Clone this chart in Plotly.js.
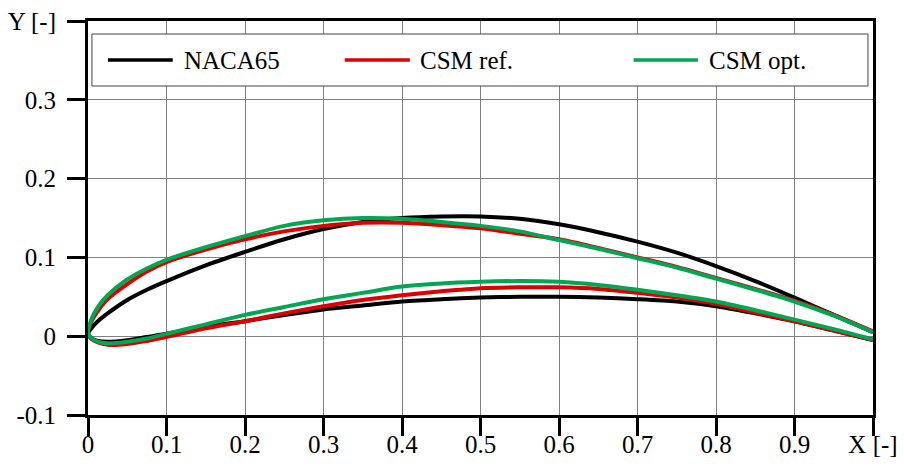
<!DOCTYPE html>
<html>
<head>
<meta charset="utf-8">
<script src="https://cdn.plot.ly/plotly-3.0.1.min.js"></script>
<style>
  html, body { margin: 0; padding: 0; background: #ffffff; }
  #chart { width: 904px; height: 466px; }
</style>
</head>
<body>
<div id="chart"></div>
<script>
// Chord stations (shared by every surface)
const xStations = [0, 0.005, 0.0125, 0.025, 0.05, 0.075, 0.1, 0.15, 0.2, 0.25, 0.3, 0.35, 0.4, 0.45, 0.5, 0.55, 0.6, 0.65, 0.7, 0.75, 0.8, 0.85, 0.9, 0.95, 1.0];

// NACA65
const nacaUpper = [0.003, 0.011, 0.019, 0.029, 0.046, 0.059, 0.070, 0.090, 0.107, 0.123, 0.136, 0.145, 0.150, 0.152, 0.152, 0.149, 0.142, 0.132, 0.120, 0.106, 0.089, 0.070, 0.049, 0.027, 0.005];
const nacaLower = [0.003, -0.003, -0.006, -0.007, -0.005, -0.001, 0.003, 0.012, 0.019, 0.027, 0.034, 0.039, 0.044, 0.047, 0.049, 0.050, 0.050, 0.049, 0.047, 0.044, 0.038, 0.029, 0.019, 0.007, -0.005];

// CSM ref.
const refUpper = [0.004, 0.020, 0.032, 0.047, 0.066, 0.082, 0.094, 0.110, 0.123, 0.133, 0.140, 0.144, 0.144, 0.141, 0.137, 0.130, 0.123, 0.112, 0.100, 0.088, 0.074, 0.060, 0.045, 0.027, 0.006];
const refLower = [0.004, -0.004, -0.008, -0.011, -0.010, -0.006, -0.001, 0.010, 0.019, 0.029, 0.038, 0.046, 0.052, 0.057, 0.061, 0.062, 0.062, 0.060, 0.055, 0.049, 0.041, 0.030, 0.019, 0.007, -0.005];

// CSM opt.
const optUpper = [0.004, 0.023, 0.037, 0.052, 0.072, 0.086, 0.097, 0.113, 0.127, 0.140, 0.147, 0.150, 0.149, 0.145, 0.140, 0.133, 0.122, 0.111, 0.099, 0.087, 0.073, 0.059, 0.044, 0.026, 0.005];
const optLower = [0.004, -0.003, -0.007, -0.009, -0.007, -0.003, 0.003, 0.015, 0.027, 0.037, 0.047, 0.055, 0.063, 0.067, 0.069, 0.070, 0.069, 0.065, 0.059, 0.052, 0.044, 0.033, 0.021, 0.009, -0.004];

const seriesNames = ["NACA65", "CSM ref.", "CSM opt."];
const seriesColors = ["#000000", "#dd0000", "#00a651"];

const xTickVals = [0, 0.1, 0.2, 0.3, 0.4, 0.5, 0.6, 0.7, 0.8, 0.9, 1.0];
const xTickText = ["0", "0.1", "0.2", "0.3", "0.4", "0.5", "0.6", "0.7", "0.8", "0.9", "X [-]"];
const yTickVals = [-0.1, 0, 0.1, 0.2, 0.3, 0.4];
const yTickText = ["-0.1", "0", "0.1", "0.2", "0.3", "Y [-]"];

function contour(upper, lower) {
  const xs = xStations.slice().reverse().concat(xStations.slice(1));
  const ys = upper.slice().reverse().concat(lower.slice(1));
  return { xs, ys };
}

const surfaces = [[nacaUpper, nacaLower], [refUpper, refLower], [optUpper, optLower]];
const traces = surfaces.map((s, i) => {
  const c = contour(s[0], s[1]);
  return {
    x: c.xs, y: c.ys, type: "scatter", mode: "lines",
    name: seriesNames[i],
    line: { color: seriesColors[i], width: 4, shape: "spline", smoothing: 0.8 },
    showlegend: false, hoverinfo: "skip"
  };
});

const FONT = "Liberation Serif, Times New Roman, serif";

// Custom legend (box, sample lines, labels) in paper coordinates
const legendBox = { x0: 0.005, x1: 0.9936, y0: 0.835, y1: 0.967 };
const legendLineX = [[0.0255, 0.108], [0.327, 0.410], [0.695, 0.777]];
const legendTextX = [0.120, 0.420, 0.789];
const legendY = 0.901;

const shapes = [{
  type: "rect", xref: "paper", yref: "paper",
  x0: legendBox.x0, x1: legendBox.x1, y0: legendBox.y0, y1: legendBox.y1,
  line: { color: "#444444", width: 1 }, fillcolor: "#ffffff", layer: "above"
}];
const annotations = [];
for (let i = 0; i < seriesNames.length; i++) {
  shapes.push({
    type: "line", xref: "paper", yref: "paper",
    x0: legendLineX[i][0], x1: legendLineX[i][1], y0: legendY, y1: legendY,
    line: { color: seriesColors[i], width: 3.5 }, layer: "above"
  });
  annotations.push({
    xref: "paper", yref: "paper", x: legendTextX[i], y: legendY,
    xanchor: "left", yanchor: "middle", showarrow: false,
    text: seriesNames[i], font: { family: FONT, size: 25, color: "#000000" }
  });
}

const layout = {
  width: 904, height: 466,
  margin: { l: 88, r: 31, t: 21, b: 51, pad: 0 },
  paper_bgcolor: "#ffffff", plot_bgcolor: "#ffffff",
  font: { family: FONT, size: 25, color: "#000000" },
  showlegend: false,
  xaxis: {
    range: [0, 1], tickmode: "array", tickvals: xTickVals, ticktext: xTickText,
    showline: true, linecolor: "#000000", linewidth: 3, mirror: true,
    ticks: "outside", ticklen: 18, tickwidth: 3, tickcolor: "#000000",
    showgrid: true, gridcolor: "#808080", gridwidth: 1, zeroline: false,
    tickfont: { family: FONT, size: 25, color: "#000000" }, ticklabelstandoff: -13
  },
  yaxis: {
    range: [-0.1, 0.4], tickmode: "array", tickvals: yTickVals, ticktext: yTickText,
    showline: true, linecolor: "#000000", linewidth: 3, mirror: true,
    ticks: "outside", ticklen: 18, tickwidth: 3, tickcolor: "#000000",
    showgrid: true, gridcolor: "#808080", gridwidth: 1, zeroline: false,
    tickfont: { family: FONT, size: 25, color: "#000000" }, ticklabelstandoff: 6
  },
  shapes: shapes,
  annotations: annotations
};

Plotly.newPlot("chart", traces, layout, { staticPlot: true, displayModeBar: false });
</script>
</body>
</html>
